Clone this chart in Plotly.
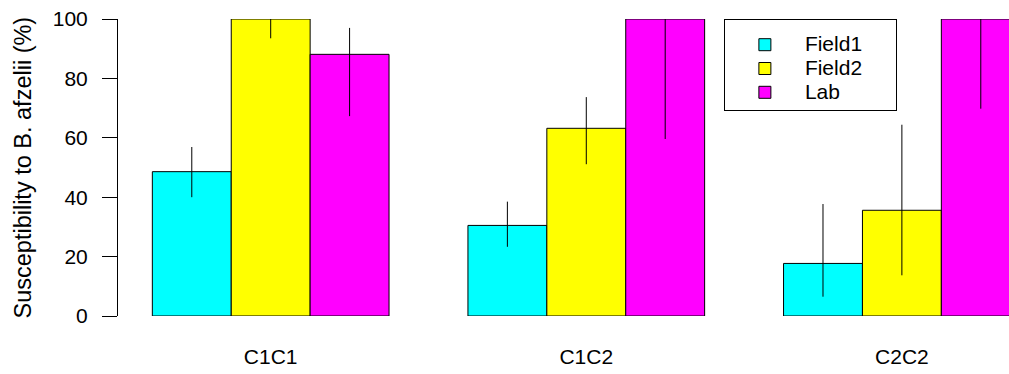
import plotly.graph_objects as go

categories = ["C1C1", "C1C2", "C2C2"]
series_names = ["Field1", "Field2", "Lab"]
field1 = [48.6, 30.5, 17.7]
field2 = [100.0, 63.2, 35.6]
lab = [88.1, 100.0, 100.0]
field1_hi = [56.9, 38.5, 37.7]
field1_lo = [40.0, 23.3, 6.5]
field2_hi = [100.0, 73.7, 64.4]
field2_lo = [93.5, 51.1, 13.7]
lab_hi = [97.0, 100.0, 100.0]
lab_lo = [67.3, 59.6, 69.8]
colors = ["#00FFFF", "#FFFF00", "#FF00FF"]
y_ticks = [0, 20, 40, 60, 80, 100]
y_title = "Susceptibility to B. afzelii (%)"

FONT = "Liberation Sans, Arial, Helvetica, sans-serif"
FS = 21

fig = go.Figure()
for name, vals, hi, lo, col in zip(series_names, [field1, field2, lab],
                                   [field1_hi, field2_hi, lab_hi],
                                   [field1_lo, field2_lo, lab_lo], colors):
    fig.add_trace(go.Bar(
        x=categories, y=vals,
        name='<span style="font-size:21px">' + name + '</span>',
        marker=dict(color=col, line=dict(color="black", width=1)),
        error_y=dict(type="data", symmetric=False,
                     array=[h - v for h, v in zip(hi, vals)],
                     arrayminus=[v - l for v, l in zip(vals, lo)],
                     color="black", thickness=1, width=0),
    ))

fig.update_layout(
    width=1009, height=374,
    margin=dict(l=118, r=0, t=19, b=58),
    paper_bgcolor="white", plot_bgcolor="white",
    barmode="group", bargap=0.25, bargroupgap=0,
    font=dict(family=FONT, size=FS, color="black"),
    showlegend=True,
    legend=dict(x=0.68, y=1.0, xanchor="left", yanchor="top",
                bgcolor="white", bordercolor="black", borderwidth=1,
                itemwidth=70, font=dict(size=16), traceorder="normal",
                title=dict(text="&nbsp;" * 100, font=dict(size=6), side="top"),
                itemclick=False),
    xaxis=dict(range=[-0.4838, 2.3394], showline=False, ticks="",
               showgrid=False, zeroline=False, ticklabelstandoff=26,
               tickfont=dict(size=FS)),
    yaxis=dict(range=[0, 100], tickvals=y_ticks, showline=True,
               linecolor="black", linewidth=1, ticks="outside", ticklen=15,
               tickcolor="black", showgrid=False, zeroline=False,
               ticklabelstandoff=10, tickfont=dict(size=FS)),
    annotations=[dict(text=y_title, xref="paper", yref="paper",
                      x=(22 - 118) / 891, y=0.5, xanchor="center",
                      yanchor="middle", textangle=-90, showarrow=False,
                      font=dict(size=23.5))],
)

fig.write_html("out.html")
